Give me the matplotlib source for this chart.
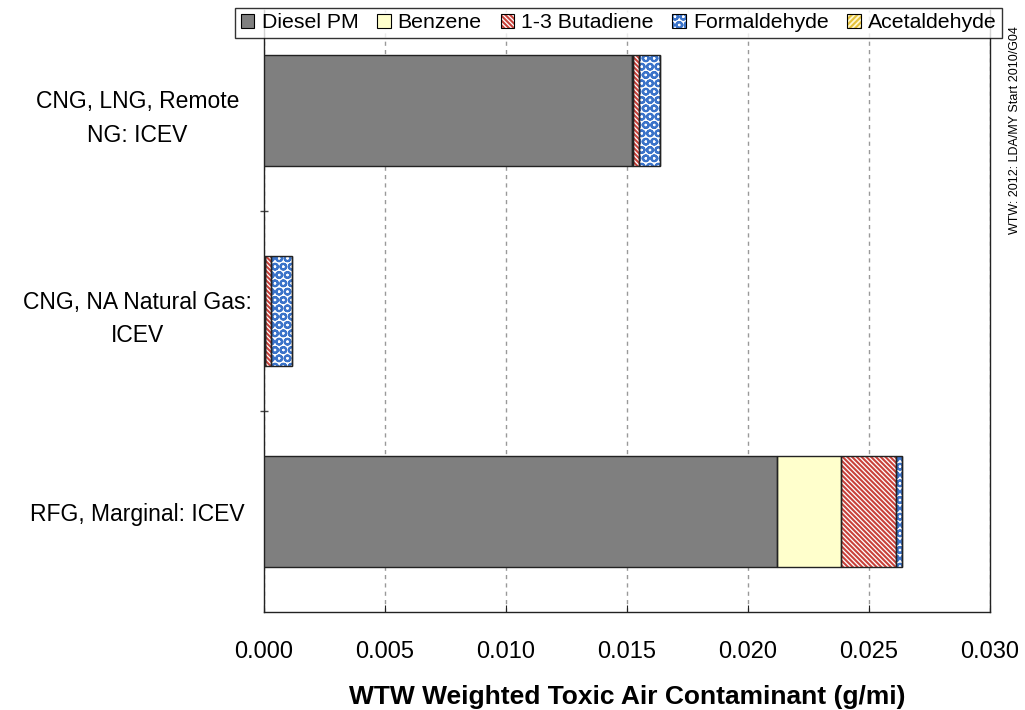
import matplotlib
matplotlib.use("Agg")
import matplotlib.pyplot as plt
from matplotlib.legend_handler import HandlerBase
import numpy as np

plt.rcParams['font.family'] = ['Liberation Sans', 'DejaVu Sans']
plt.rcParams['hatch.linewidth'] = 1.5

# --- data ---
categories = ["CNG, LNG, Remote\nNG: ICEV", "CNG, NA Natural Gas:\nICEV", "RFG, Marginal: ICEV"]
diesel_pm = [0.01520, 0.00003, 0.02120]
benzene = [0.00003, 0.00002, 0.00265]
butadiene = [0.00027, 0.00025, 0.00225]
formaldehyde = [0.00085, 0.00085, 0.00025]
acetaldehyde = [0.0, 0.0, 0.0]
xticks = [0.000, 0.005, 0.010, 0.015, 0.020, 0.025, 0.030]

series = [
    ("Diesel PM", diesel_pm, dict(facecolor='#7f7f7f', hatch=None, hcolor='#7f7f7f')),
    ("Benzene", benzene, dict(facecolor='#ffffcc', hatch=None, hcolor='#ffffcc')),
    ("1-3 Butadiene", butadiene, dict(facecolor='white', hatch='\\' * 7, hcolor='#c8413a')),
    ("Formaldehyde", formaldehyde, dict(facecolor='white', hatch='OO', hcolor='#3b73c9')),
    ("Acetaldehyde", acetaldehyde, dict(facecolor='#fff8d0', hatch='/' * 6, hcolor='#e5c23a')),
]


class BoxHandler(HandlerBase):
    # small square with hatch plus a black outline, like the Excel legend keys
    def create_artists(self, legend, orig, xd, yd, w, h, fontsize, trans):
        s = min(w, h) * 0.9
        x0 = xd + (w - s) / 2
        y0 = yd + (h - s) / 2
        r1 = plt.Rectangle((x0, y0), s, s, facecolor=orig.get_facecolor(), hatch=orig.get_hatch(),
                           edgecolor=orig.get_edgecolor(), linewidth=0, transform=trans)
        r2 = plt.Rectangle((x0, y0), s, s, facecolor='none', edgecolor='black',
                           linewidth=0.8, transform=trans)
        return [r1, r2]


fig = plt.figure(figsize=(10.25, 7.1), dpi=100)
ax = fig.add_axes([264 / 1025, 1 - 612 / 710, (990 - 264) / 1025, (612 - 10) / 710])

ypos = np.arange(len(categories))[::-1]
left = np.zeros(len(categories))
handles = []
for name, vals, st in series:
    vals = np.array(vals)
    ax.barh(ypos, vals, left=left, height=0.55, color=st['facecolor'],
            hatch=st['hatch'], edgecolor=st['hcolor'], linewidth=0, zorder=3)
    ax.barh(ypos, vals, left=left, height=0.55, facecolor='none',
            edgecolor='#222222', linewidth=1.0, zorder=4)
    left += vals
    handles.append(plt.Rectangle((0, 0), 1, 1, facecolor=st['facecolor'], hatch=st['hatch'],
                                 edgecolor=st['hcolor'], linewidth=0))

leg = fig.legend(handles, [s[0] for s in series], loc='upper right',
                 bbox_to_anchor=(1002 / 1025, 1 - 8 / 710), ncol=5, fontsize=15.3,
                 handler_map={plt.Rectangle: BoxHandler()},
                 handlelength=0.7, handleheight=0.7, handletextpad=0.3, columnspacing=0.85,
                 borderpad=0.25, borderaxespad=0, frameon=True, fancybox=False)
leg.get_frame().set_edgecolor('black')
leg.get_frame().set_linewidth(1.0)

ax.set_xlim(0, 0.030)
ax.set_ylim(-0.5, 2.5)
ax.set_xticks(xticks)
ax.set_xticklabels([f"{t:.3f}" for t in xticks])
ax.set_yticks(ypos)
ax.set_yticklabels(categories, fontsize=16.5, linespacing=1.6)
ax.set_yticks([0.5, 1.5], minor=True)
ax.tick_params(axis='y', which='major', length=0, pad=91)
ax.tick_params(axis='y', which='minor', length=6, direction='inout', width=1, color='#444444')
ax.tick_params(axis='x', length=5, direction='in', labelsize=17, pad=21, color='#222222')
for t in ax.get_yticklabels():
    t.set_horizontalalignment('center')
ax.xaxis.grid(True, linestyle=(0, (3, 3)), color='#999999', linewidth=1.0, zorder=0)
ax.set_axisbelow(True)
ax.spines['top'].set_visible(False)
for s in ['left', 'bottom', 'right']:
    ax.spines[s].set_color('#222222')
    ax.spines[s].set_linewidth(1.0)
ax.set_xlabel("WTW Weighted Toxic Air Contaminant (g/mi)", fontsize=19, fontweight='bold', labelpad=16)

fig.text(1015 / 1025, 1 - 130 / 710, "WTW: 2012: LDA/MY Start 2010/G04", rotation=90,
         fontsize=9, ha='center', va='center')

fig.savefig("out.png", dpi=100)
